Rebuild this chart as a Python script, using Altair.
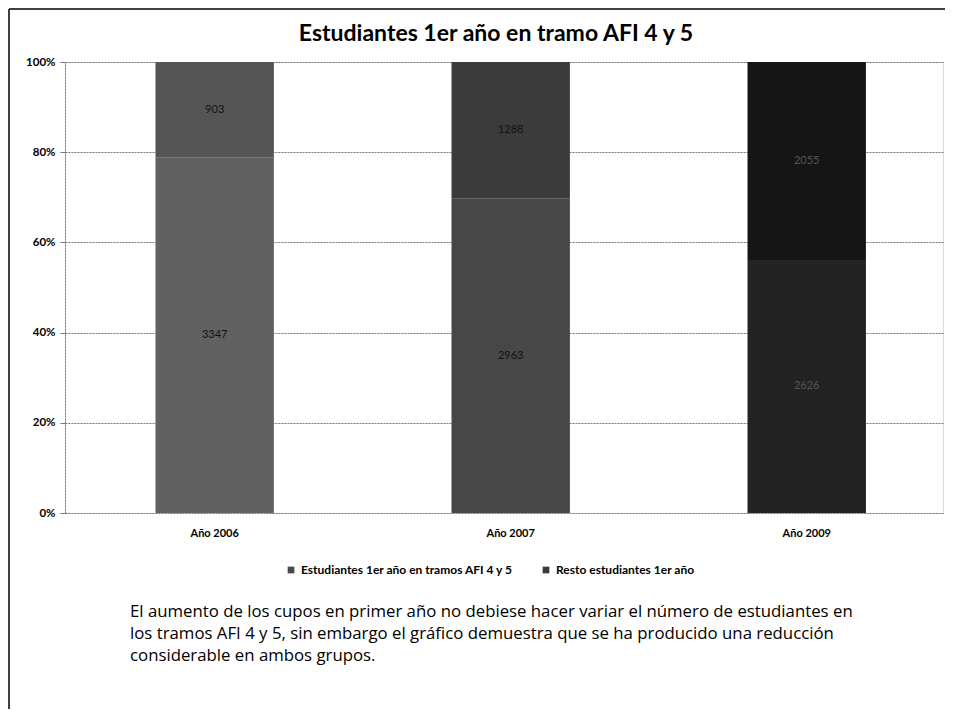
import altair as alt
import pandas as pd

# ---- data ----
anios = ["Año 2006", "Año 2007", "Año 2009"]
afi_4_5 = [3347, 2963, 2626]
resto = [903, 1288, 2055]
series = ["Estudiantes 1er año en tramos AFI 4 y 5", "Resto estudiantes 1er año"]
y_ticks = [0, 0.2, 0.4, 0.6, 0.8, 1.0]
titulo = "Estudiantes 1er año en tramo AFI 4 y 5"
parrafo = [
    "El aumento de los cupos en primer año no debiese hacer variar el número de estudiantes en",
    "los tramos AFI 4 y 5, sin embargo el gráfico demuestra que se ha producido una reducción",
    "considerable en ambos grupos.",
]

rows = []
for i, a in enumerate(anios):
    rows.append({"anio": a, "serie": series[0], "valor": afi_4_5[i], "orden": 0, "clave": a + "|0"})
    rows.append({"anio": a, "serie": series[1], "valor": resto[i], "orden": 1, "clave": a + "|1"})
df = pd.DataFrame(rows)

claves = [a + "|" + s for a in anios for s in ("0", "1")]
tonos = ["#616161", "#555555", "#474747", "#3b3b3b", "#232323", "#151515"]

FONT = "Lato"

x_enc = alt.X(
    "anio:N",
    sort=anios,
    title=None,
    scale=alt.Scale(domain=anios, paddingInner=0.6, paddingOuter=0.283, align=0.54),
    axis=alt.Axis(labelAngle=0, labelFont=FONT, labelFontWeight="bold", labelFontSize=11,
                  labelColor="black", labelPadding=14, ticks=False, domain=False),
)
y_axis = alt.Axis(values=y_ticks, format=".0%", labelFont=FONT, labelFontWeight="bold",
                  labelFontSize=11.5, labelColor="black", labelPadding=5, tickSize=5,
                  tickColor="#777", domainColor="#777", domainDash=[2, 1],
                  gridColor="#777", gridDash=[2, 1], gridWidth=1, title=None)
y_scale = alt.Scale(domain=[0, 1])

bars = alt.Chart(df).mark_bar().encode(
    x=x_enc,
    y=alt.Y("valor:Q", stack="normalize", scale=y_scale, axis=y_axis, title=None),
    fill=alt.Fill("clave:N", scale=alt.Scale(domain=claves, range=tonos), legend=None),
    detail="serie:N",
    order=alt.Order("orden:Q"),
)

# legend-only layer (zero-size points), colours of the two series
leyenda = alt.Chart(df).mark_square(size=0, opacity=0).encode(
    x=x_enc,
    y=alt.Y("valor:Q", stack="normalize", scale=y_scale, axis=y_axis, title=None),
    color=alt.Color("serie:N", scale=alt.Scale(domain=series, range=["#4a4a4a", "#3a3a3a"]),
                    legend=alt.Legend(orient="none", legendX=220, legendY=502, direction="horizontal",
                                      title=None, symbolType="square", symbolSize=45,
                                      symbolOpacity=1,
                                      labelFont=FONT, labelFontWeight="bold", labelFontSize=12,
                                      labelColor="black", labelLimit=0, columnPadding=26,
                                      symbolStrokeWidth=0)),
)

labels = alt.Chart(df).transform_stack(
    stack="valor", groupby=["anio"], as_=["y0", "y1"], offset="normalize",
    sort=[alt.SortField("orden", order="ascending")],
).transform_calculate(mid="(datum.y0 + datum.y1) / 2").mark_text(
    font=FONT, fontSize=11
).encode(
    x=x_enc,
    y=alt.Y("mid:Q", scale=y_scale, axis=y_axis, title=None),
    text="valor:Q",
    color=alt.condition("datum.anio == 'Año 2009'", alt.value("#555555"), alt.value("#111111")),
)

one = pd.DataFrame({"k": [0]})
frame_left = alt.Chart(one).mark_rule(color="black", strokeWidth=1.5).encode(
    x=alt.value(-56), y=alt.value(-53), y2=alt.value(650))
frame_top = alt.Chart(one).mark_rule(color="black", strokeWidth=1.5).encode(
    x=alt.value(-56), x2=alt.value(880), y=alt.value(-53))

titulo_txt = alt.Chart(one).mark_text(
    text=titulo, font=FONT, fontSize=23, fontWeight="bold", color="black",
    align="center", baseline="middle"
).encode(x=alt.value(431), y=alt.value(-28))

texto = alt.Chart(one).mark_text(
    text=parrafo, font="Open Sans", fontSize=16.8, lineHeight=22, align="left", baseline="top",
    color="black"
).encode(x=alt.value(65), y=alt.value(542))

chart = alt.layer(bars, leyenda, labels, frame_left, frame_top, titulo_txt, texto).properties(
    width=878,
    height=451,
    padding={"left": 57, "top": 54, "right": 8, "bottom": 196},
    autosize=alt.AutoSizeParams(type="none"),
).configure_view(stroke=None).configure(background="white")

chart.save("out.html", embed_options={"renderer": "svg", "actions": False})
